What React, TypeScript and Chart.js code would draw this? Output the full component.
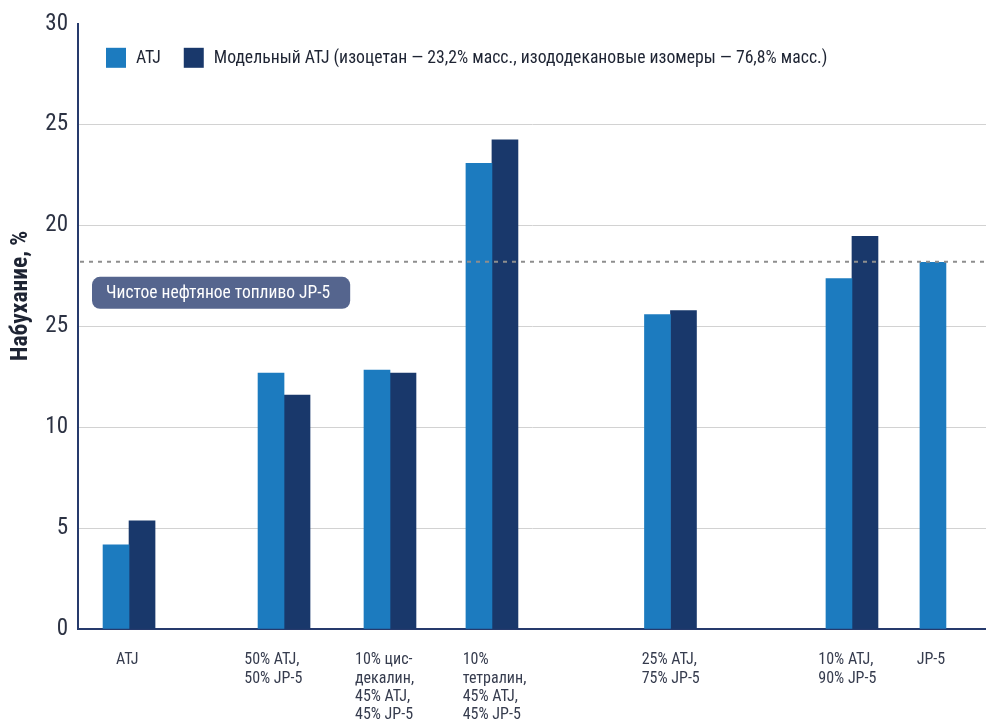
import React, { useEffect, useRef } from "react";
import { Chart, registerables } from "chart.js";

Chart.register(...registerables);

// ---------- data ----------
const categoryLabels: string[][] = [
  ["ATJ"],
  ["50% ATJ,", "50% JP-5"],
  ["10% цис-", "декалин,", "45% ATJ,", "45% JP-5"],
  ["10%", "тетралин,", "45% ATJ,", "45% JP-5"],
  ["25% ATJ,", "75% JP-5"],
  ["10% ATJ,", "90% JP-5"],
  ["JP-5"],
];
// group positions on a 0–100 horizontal scale (the original spacing is irregular)
const groupPositions = [5.62, 22.69, 34.36, 45.59, 65.25, 85.24, 95.59];
// where each category label starts on the same 0–100 scale
const labelPositions = [4.19, 18.31, 30.51, 42.37, 62.08, 81.53, 92.37];

const seriesNames = [
  "ATJ",
  "Модельный ATJ (изоцетан — 23,2% масс., изододекановые изомеры — 76,8% масс.)",
];
const atjValues: (number | null)[] = [4.17, 12.68, 12.83, 23.08, 15.59, 17.37, 18.18];
const modelAtjValues: (number | null)[] = [5.36, 11.59, 12.68, 24.25, 15.79, 19.47, null];

const yTickValues = [0, 5, 10, 15, 20, 25, 30];
const yTickLabels = ["0", "5", "10", "25", "20", "25", "30"];
const yAxisTitle = "Набухание, %";

const referenceValue = 18.2;
const referenceLabel = "Чистое нефтяное топливо JP-5";

// ---------- style ----------
const FONT = "'Roboto Condensed', 'DejaVu Sans Condensed', sans-serif";
const COLOR_LIGHT = "#1c7bbf";
const COLOR_DARK = "#19386b";
const AXIS_COLOR = "#263a6c";
const GRID_COLOR = "#d2d2d2";
const TEXT_COLOR = "#2c3243";

const overlayPlugin = {
  id: "overlay",
  afterDatasetsDraw(chart: any) {
    const { ctx, chartArea } = chart;
    const y = chart.scales.y.getPixelForValue(referenceValue);
    ctx.save();
    ctx.strokeStyle = "#8e8e8e";
    ctx.lineWidth = 2;
    ctx.setLineDash([4, 5]);
    ctx.beginPath();
    ctx.moveTo(chartArea.left + 2, y);
    ctx.lineTo(chartArea.right, y);
    ctx.stroke();
    ctx.setLineDash([]);

    // reference label box
    ctx.font = `17.5px ${FONT}`;
    const tw = ctx.measureText(referenceLabel).width;
    const bx = chartArea.left + 14;
    const by = y + 15;
    const bw = tw + 34;
    const bh = 32;
    ctx.fillStyle = "#55658e";
    ctx.beginPath();
    (ctx as any).roundRect(bx, by, bw, bh, 8);
    ctx.fill();
    ctx.fillStyle = "#ffffff";
    ctx.textBaseline = "middle";
    ctx.textAlign = "left";
    ctx.fillText(referenceLabel, bx + 14, by + bh / 2 + 1);
    ctx.restore();
  },
  afterDraw(chart: any) {
    const { ctx, chartArea } = chart;
    ctx.save();
    // legend
    ctx.font = `17.7px ${FONT}`;
    ctx.textBaseline = "middle";
    ctx.textAlign = "left";
    let x = chartArea.left + 28;
    const top = chartArea.top + 24;
    chart.data.datasets.forEach((ds: any) => {
      ctx.fillStyle = ds.backgroundColor;
      ctx.fillRect(x, top, 20, 20);
      ctx.fillStyle = "#1e2433";
      ctx.fillText(ds.label, x + 30, top + 11);
      x += 30 + ctx.measureText(ds.label).width + 23;
    });
    // y axis title
    ctx.font = `bold 23.5px ${FONT}`;
    ctx.fillStyle = "#1e2433";
    ctx.textAlign = "center";
    ctx.translate(chartArea.left - 57, chartArea.top + 272);
    ctx.rotate(-Math.PI / 2);
    ctx.fillText(yAxisTitle, 0, 0);
    ctx.restore();
  },
};

export default function App() {
  const ref = useRef<HTMLCanvasElement>(null);
  useEffect(() => {
    const canvas = ref.current;
    if (!canvas) return;
    Chart.defaults.font.family = FONT;
    const chart = new Chart(canvas, {
      type: "bar",
      data: {
        datasets: [
          {
            label: seriesNames[0],
            data: groupPositions.map((x, i) => ({ x, y: atjValues[i] })) as any,
            backgroundColor: COLOR_LIGHT,
            barThickness: 26,
          },
          {
            label: seriesNames[1],
            data: groupPositions.map((x, i) => ({ x, y: modelAtjValues[i] })) as any,
            backgroundColor: COLOR_DARK,
            barThickness: 26,
          },
        ],
      },
      options: {
        animation: false,
        responsive: true,
        maintainAspectRatio: false,
        layout: { padding: { top: 23, left: 0, right: 0, bottom: 0 } },
        plugins: {
          legend: { display: false },
          tooltip: { enabled: false },
        },
        scales: {
          x: {
            type: "linear",
            min: 0,
            max: 100,
            offset: false,
            grid: { display: false, offset: false },
            border: { display: true, color: AXIS_COLOR, width: 2 },
            afterBuildTicks: (s: any) => {
              s.ticks = labelPositions.map((v) => ({ value: v }));
            },
            afterFit: (s: any) => {
              s.height = 91;
            },
            ticks: {
              autoSkip: false,
              maxRotation: 0,
              minRotation: 0,
              align: "start",
              padding: 14,
              color: "#363c4e",
              font: { size: 16, lineHeight: 1.15 },
              callback: (v: any) => categoryLabels[labelPositions.indexOf(Number(v))],
            },
          },
          y: {
            min: 0,
            max: 30,
            afterBuildTicks: (s: any) => {
              s.ticks = yTickValues.map((v) => ({ value: v }));
            },
            afterFit: (s: any) => {
              s.width = 78;
            },
            grid: {
              color: (c: any) => (c.tick && c.tick.value === 30 ? "rgba(0,0,0,0)" : GRID_COLOR),
              drawTicks: false,
              lineWidth: 1,
            },
            border: { color: AXIS_COLOR, width: 2 },
            ticks: {
              padding: 10,
              color: TEXT_COLOR,
              font: { size: 23 },
              callback: (v: any) => yTickLabels[yTickValues.indexOf(Number(v))],
            },
          },
        },
      } as any,
      plugins: [overlayPlugin],
    });
    return () => chart.destroy();
  }, []);

  return (
    <div style={{ position: "fixed", left: 0, top: 0, width: 986, height: 720, background: "#fff" }}>
      <canvas ref={ref} />
    </div>
  );
}
